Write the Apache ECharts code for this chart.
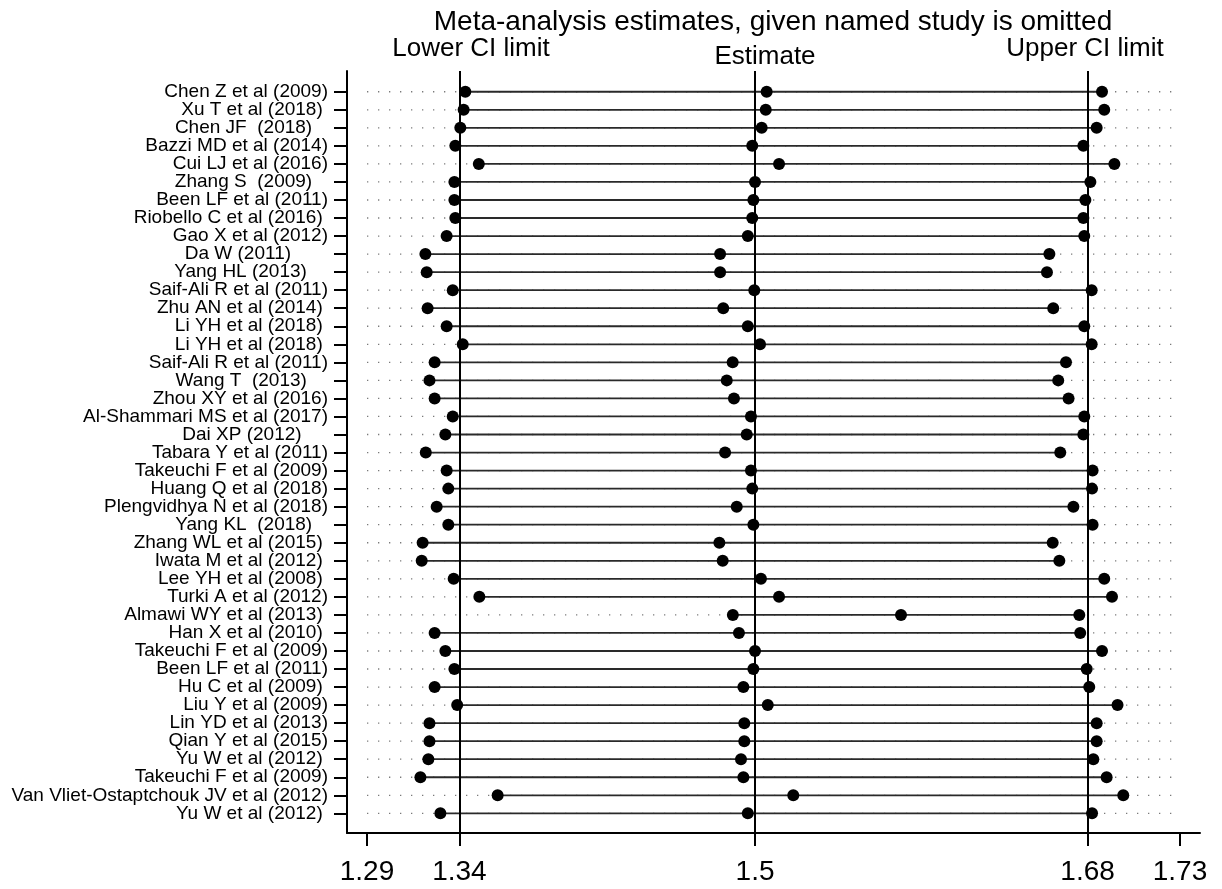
<!DOCTYPE html>
<html>
<head>
<meta charset="utf-8">
<script src="https://cdn.jsdelivr.net/npm/echarts@6/dist/echarts.min.js"></script>
<style>
html,body{margin:0;padding:0;background:#fff;}
#chart{width:1222px;height:889px;}
</style>
</head>
<body>
<div id="chart"></div>
<script>
// ---- data ----
const studies = [
  "Chen Z et al (2009)", "Xu T et al (2018) ", "Chen JF  (2018)   ", "Bazzi MD et al (2014)",
  "Cui LJ et al (2016)", "Zhang S  (2009)   ", "Been LF et al (2011)", "Riobello C et al (2016) ",
  "Gao X et al (2012)", "Da W (2011)       ", "Yang HL (2013)    ", "Saif-Ali R et al (2011)",
  "Zhu AN et al (2014) ", "Li YH et al (2018) ", "Li YH et al (2018) ", "Saif-Ali R et al (2011)",
  "Wang T  (2013)    ", "Zhou XY et al (2016)", "Al-Shammari MS et al (2017)", "Dai XP (2012)     ",
  "Tabara Y et al (2011)", "Takeuchi F et al (2009)", "Huang Q et al (2018)", "Plengvidhya N et al (2018)",
  "Yang KL  (2018)   ", "Zhang WL et al (2015) ", "Iwata M et al (2012) ", "Lee YH et al (2008) ",
  "Turki A et al (2012)", "Almawi WY et al (2013) ", "Han X et al (2010) ", "Takeuchi F et al (2009)",
  "Been LF et al (2011)", "Hu C et al (2009) ", "Liu Y et al (2009)", "Lin YD et al (2013)",
  "Qian Y et al (2015)", "Yu W et al (2012) ", "Takeuchi F et al (2009)", "Van Vliet-Ostaptchouk JV et al (2012)",
  "Yu W et al (2012) "
];
const lowerCI = [
  1.3432, 1.3423, 1.3405, 1.3378, 1.3505, 1.3373, 1.3373, 1.3378, 1.3331, 1.3216,
  1.3223, 1.3364, 1.3228, 1.3331, 1.3418, 1.3266, 1.3238, 1.3266, 1.3364, 1.3324,
  1.3218, 1.3331, 1.3340, 1.3277, 1.3340, 1.3201, 1.3196, 1.3369, 1.3508, 1.4880,
  1.3266, 1.3324, 1.3373, 1.3266, 1.3388, 1.3238, 1.3238, 1.3232, 1.3189, 1.3607,
  1.3297
];
const estimate = [
  1.5063, 1.5058, 1.5036, 1.4985, 1.5130, 1.5000, 1.4991, 1.4985, 1.4961, 1.4811,
  1.4811, 1.4996, 1.4828, 1.4961, 1.5027, 1.4879, 1.4847, 1.4886, 1.4978, 1.4955,
  1.4838, 1.4978, 1.4985, 1.4901, 1.4991, 1.4807, 1.4825, 1.5032, 1.5130, 1.5790,
  1.4913, 1.5000, 1.4991, 1.4937, 1.5069, 1.4942, 1.4942, 1.4924, 1.4937, 1.5207,
  1.4961
];
const upperCI = [
  1.6878, 1.6890, 1.6849, 1.6777, 1.6945, 1.6815, 1.6788, 1.6777, 1.6782, 1.6593,
  1.6580, 1.6822, 1.6614, 1.6782, 1.6822, 1.6683, 1.6641, 1.6697, 1.6782, 1.6777,
  1.6652, 1.6827, 1.6824, 1.6723, 1.6827, 1.6611, 1.6647, 1.6890, 1.6932, 1.6755,
  1.6760, 1.6878, 1.6795, 1.6809, 1.6962, 1.6849, 1.6849, 1.6831, 1.6903, 1.6993,
  1.6824
];
const xTickValues = [1.29, 1.34, 1.5, 1.68, 1.73];
const xTickLabels = ["1.29", "1.34", "1.5", "1.68", "1.73"];
const refLines = [1.34, 1.5, 1.68];
const titleText = "Meta-analysis estimates, given named study is omitted";
const headerTexts = ["Lower CI limit", "Estimate", "Upper CI limit"];

// ---- chart ----
const FONT = '"Liberation Sans", Arial, sans-serif';
const rowIdx = studies.map((s, i) => i + 1);
const chart = echarts.init(document.getElementById('chart'), null, {renderer: 'canvas'});

const X_MIN = 1.27917, X_MAX = 1.74083;
const dotStart = xTickValues[0], dotEnd = xTickValues[xTickValues.length - 1];

const pointSeries = (name, arr) => ({
  name: name,
  type: 'scatter',
  data: arr.map((v, i) => [v, rowIdx[i]]),
  symbol: 'circle',
  symbolSize: 12,
  itemStyle: {color: '#000', opacity: 1},
  z: 5,
  silent: true
});

const option = {
  animation: false,
  backgroundColor: '#fff',
  graphic: [
    {type: 'text', x: 773, y: 22, style: {text: titleText, font: '28px ' + FONT, fill: '#000', textAlign: 'center', textVerticalAlign: 'middle'}},
    {type: 'text', x: 471, y: 49, style: {text: headerTexts[0], font: '26px ' + FONT, fill: '#000', textAlign: 'center', textVerticalAlign: 'middle'}},
    {type: 'text', x: 765, y: 57, style: {text: headerTexts[1], font: '26px ' + FONT, fill: '#000', textAlign: 'center', textVerticalAlign: 'middle'}},
    {type: 'text', x: 1085, y: 49, style: {text: headerTexts[2], font: '26px ' + FONT, fill: '#000', textAlign: 'center', textVerticalAlign: 'middle'}}
  ],
  grid: {left: 347, right: 22, top: 71, bottom: 56, containLabel: false},
  xAxis: {
    type: 'value',
    min: X_MIN,
    max: X_MAX,
    axisLine: {show: true, onZero: false, lineStyle: {color: '#000', width: 2}},
    axisTick: {show: true, customValues: xTickValues, length: 13, lineStyle: {color: '#000', width: 2}},
    axisLabel: {
      show: true, customValues: xTickValues, margin: 25,
      showMinLabel: true, showMaxLabel: true,
      fontSize: 28, fontFamily: FONT, color: '#000',
      formatter: (v) => { const k = xTickValues.findIndex(t => Math.abs(t - v) < 1e-6); return k >= 0 ? xTickLabels[k] : ''; }
    },
    splitLine: {show: false}
  },
  yAxis: {
    type: 'value',
    inverse: true,
    min: -0.15,
    max: 42.09,
    axisLine: {show: true, onZero: false, lineStyle: {color: '#000', width: 2}},
    axisTick: {show: true, customValues: rowIdx, length: 13, lineStyle: {color: '#000', width: 2}},
    axisLabel: {show: false},
    splitLine: {show: false}
  },
  series: [
    {
      name: 'rows',
      type: 'custom',
      silent: true,
      data: rowIdx.map((r, i) => [r, lowerCI[i], upperCI[i]]),
      encode: {x: [1, 2], y: 0},
      renderItem: function (params, api) {
        const y = api.value(0);
        const lo = api.value(1), hi = api.value(2);
        const a = api.coord([dotStart, y]);
        const b = api.coord([dotEnd, y]);
        const c = api.coord([lo, y]);
        const d = api.coord([hi, y]);
        return {
          type: 'group',
          children: [
            {type: 'line', shape: {x1: a[0], y1: a[1], x2: b[0] + 1, y2: b[1]},
             style: {stroke: '#7a7a7a', lineWidth: 1.3, lineDash: [1.3, 9.7]}},
            {type: 'line', shape: {x1: c[0], y1: c[1], x2: d[0], y2: d[1]},
             style: {stroke: '#2a2a2a', lineWidth: 1.8}}
          ]
        };
      },
      z: 2,
      markLine: {
        silent: true,
        symbol: 'none',
        label: {show: false},
        lineStyle: {color: '#000', width: 2, type: 'solid', opacity: 1},
        data: refLines.map(v => ({xAxis: v}))
      }
    },
    {
      // study labels on the y axis, placed through the axis scale
      name: 'labels',
      type: 'custom',
      silent: true,
      clip: false,
      data: rowIdx.map((r, i) => [X_MIN, r, i]),
      encode: {x: 0, y: 1},
      renderItem: function (params, api) {
        const p = api.coord([api.value(0), api.value(1)]);
        return {
          type: 'text',
          x: p[0] - 19,
          y: p[1],
          style: {
            text: studies[api.value(2)],
            font: '19px ' + FONT,
            fill: '#000',
            textAlign: 'right',
            textVerticalAlign: 'middle'
          }
        };
      },
      z: 6
    },
    pointSeries('Lower CI limit', lowerCI),
    pointSeries('Estimate', estimate),
    pointSeries('Upper CI limit', upperCI)
  ]
};
chart.setOption(option);
</script>
</body>
</html>
